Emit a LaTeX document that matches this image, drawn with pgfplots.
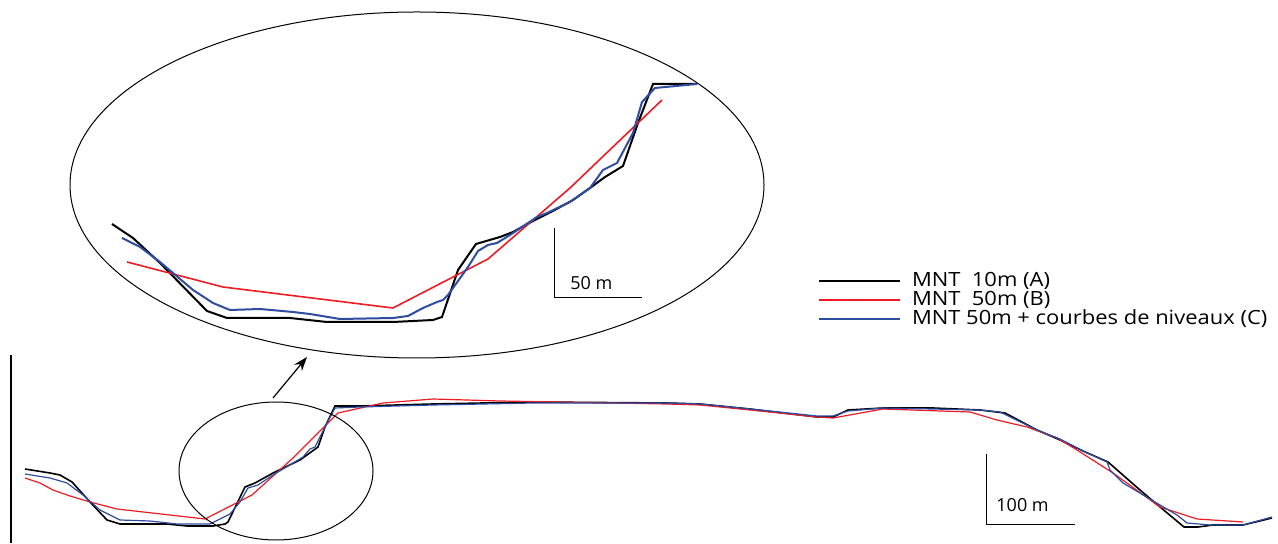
\documentclass[border=0pt]{standalone}
\usepackage{fontspec}
\setmainfont{Open Sans}
\newfontfamily\legfont[FakeStretch=1.12]{Open Sans}
\usepackage{pgfplots}
\pgfplotsset{compat=1.18}
\usetikzlibrary{arrows.meta}
\definecolor{cRed}{RGB}{237,28,36}
\definecolor{cBlue}{RGB}{46,76,160}
\begin{document}
\begin{tikzpicture}
\begin{axis}[
  scale only axis, width=639pt, height=271.5pt,
  xmin=0, xmax=1278, ymin=0, ymax=543, y dir=reverse,
  hide axis, clip=false,
  legend style={draw=none, fill=none, at={(axis cs:818,273)}, anchor=north west,
    inner sep=0pt, outer sep=0pt, row sep=0pt,
    font=\legfont\fontsize{9.8}{9}\selectfont,
    nodes={inner sep=0pt, text height=6.9pt, text depth=2.6pt},
    /tikz/every odd column/.append style={column sep=5.5pt}},
  legend cell align=left,
  legend image code/.code={\draw[#1, line width=1pt] (0pt,0.6pt) -- (40.5pt,0.6pt);},
]
\path (axis cs:0,0) rectangle (axis cs:1278,543);
% main profile
\addplot[black, line width=0.8pt] coordinates {
(25,469) (50,473) (60,475) (72,482) (90,502) (107,520) (120,524) (167,524) (187,526) (213,526) (225,524) (228,522) (245,487) (255,483) (273,473) (300,460) (318,447) (325,427) (335,406) (360,406) (433,404) (533,402) (667,403) (700,404) (750,409) (817,417) (833,417) (848,410) (883,408) (933,408) (980,410) (1005,413) (1037,430) (1060,440) (1083,451) (1108,462) (1140,490) (1160,507) (1184,527) (1198,527) (1213,525) (1243,525) (1272,518)};
\addlegendentry{MNT\ \ 10m (A)}
\addplot[cRed, line width=0.6pt] coordinates {
(25,478) (40,483) (53,490) (70,496) (90,502) (117,509) (205,519) (252,495) (293,458) (323,428) (338,413) (383,403) (433,399) (500,401) (667,404) (700,405) (750,410) (817,417) (833,418) (883,409) (970,412) (997,420) (1027,427) (1057,438) (1077,450) (1113,473) (1160,507) (1197,519) (1243,522)};
\addlegendentry{MNT\ \ 50m (B)}
\addplot[cBlue, line width=0.6pt] coordinates {
(25,474) (50,478) (67,483) (83,495) (100,510) (120,520) (150,521) (177,524) (210,524) (230,514) (240,502) (248,488) (258,485) (273,475) (303,457) (310,449) (315,447) (327,423) (335,408) (360,407) (433,405) (533,403) (667,403) (700,404) (750,409) (817,416) (833,416) (848,411) (883,408) (933,409) (980,410) (1000,412) (1037,430) (1060,439) (1083,451) (1107,462) (1110,470) (1123,483) (1160,505) (1177,515) (1187,523) (1210,525) (1243,525) (1272,517)};
\addlegendentry{MNT 50m + courbes de niveaux (C)}
% inset
\addplot[black, line width=1pt, forget plot] coordinates {
(112,224) (133,238) (160,263) (207,311) (227,318) (290,318) (327,322) (357,322) (393,322) (433,320) (442,317) (458,270) (467,257) (476,244) (500,237) (513,232) (533,221) (553,211) (573,200) (590,188) (605,177) (623,166) (638,123) (653,84) (697,84)};
\addplot[cRed, line width=0.8pt, forget plot] coordinates {
(127,262) (223,287) (393,308) (488,259) (570,188) (662,100)};
\addplot[cBlue, line width=1pt, forget plot] coordinates {
(122,238) (140,247) (160,262) (193,290) (213,303) (230,310) (260,309) (293,312) (310,314) (340,319) (393,318) (408,316) (423,308) (437,302) (443,300) (448,295) (468,267) (478,251) (488,245) (497,243) (510,235) (537,217) (547,213) (570,202) (590,188) (603,170) (617,163) (633,133) (642,102) (655,88) (697,84)};
% ellipses, arrow, bars
\draw[line width=0.5pt] (axis cs:417,185) ellipse [x radius=173.5pt, y radius=86.5pt];
\draw[line width=0.5pt] (axis cs:276,471) ellipse [x radius=48.5pt, y radius=34.5pt];
\draw[line width=0.6pt, -{Stealth[length=7pt, width=5pt]}] (axis cs:273,398) -- (axis cs:307,357);
\draw[line width=0.6pt] (axis cs:11,355) -- (axis cs:11,543);
\draw[line width=0.5pt] (axis cs:986,454) -- (axis cs:986,525) -- (axis cs:1075,525);
\node[anchor=base west, inner sep=0pt, font=\fontsize{9}{9}\selectfont] at (axis cs:996,512) {100 m};
\draw[line width=0.5pt] (axis cs:554,228) -- (axis cs:554,298) -- (axis cs:642,298);
\node[anchor=base west, inner sep=0pt, font=\fontsize{9}{9}\selectfont] at (axis cs:570,290) {50 m};
\end{axis}
\end{tikzpicture}
\end{document}
